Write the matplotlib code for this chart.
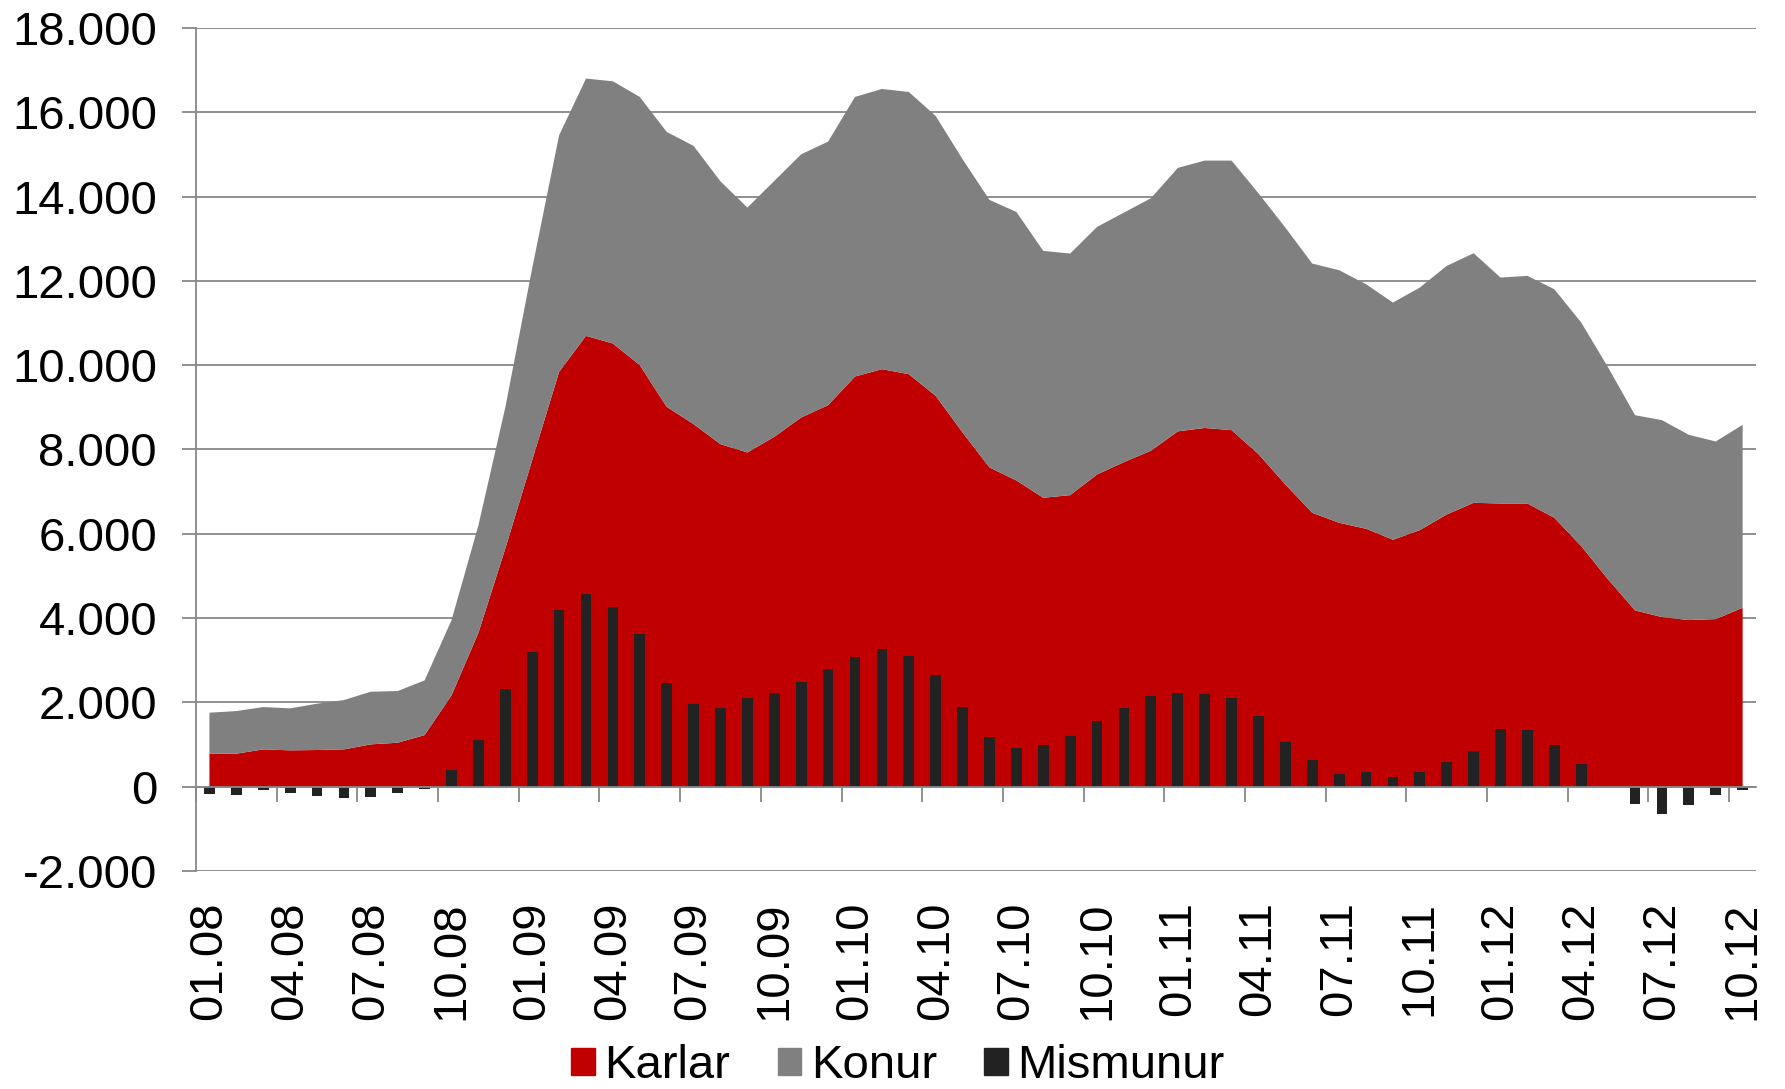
import numpy as np
import matplotlib
matplotlib.use("Agg")
import matplotlib.pyplot as plt
from matplotlib.patches import Patch
from matplotlib.ticker import FuncFormatter

plt.rcParams['font.family'] = ['Liberation Sans', 'DejaVu Sans']

# monthly values 01.08 - 10.12
karlar = [783, 783, 885, 862, 870, 885, 1004, 1043, 1225, 2166,
          3650, 5650, 7750, 9842, 10696, 10514, 10000, 9012, 8601, 8126,
          7929, 8300, 8759, 9051, 9731, 9905, 9787, 9273, 8403, 7573,
          7265, 6854, 6917, 7407, 7700, 7970, 8430, 8510, 8460, 7890,
          7170, 6498, 6261, 6119, 5858, 6087, 6458, 6735, 6719, 6719,
          6379, 5708, 4917, 4182, 4024, 3953, 3976, 4245]
konur = [972, 1011, 1004, 996, 1098, 1170, 1249, 1226, 1297, 1784,
         2550, 3350, 4550, 5613, 6104, 6221, 6364, 6522, 6601, 6234,
         5810, 6072, 6245, 6253, 6633, 6648, 6695, 6640, 6483, 6348,
         6371, 5857, 5731, 5874, 5921, 5990, 6250, 6344, 6394, 6189,
         6095, 5913, 5992, 5802, 5628, 5755, 5898, 5921, 5360, 5400,
         5423, 5304, 5028, 4632, 4672, 4395, 4214, 4340]
mismunur = [-182, -205, -87, -142, -229, -277, -237, -150, -47, 387,
            1099, 2316, 3186, 4198, 4577, 4269, 3613, 2466, 1953, 1874,
            2095, 2221, 2490, 2783, 3083, 3265, 3099, 2648, 1881, 1186,
            909, 988, 1194, 1557, 1874, 2142, 2229, 2206, 2095, 1684,
            1051, 624, 292, 340, 237, 340, 585, 838, 1360, 1344,
            980, 538, 0, -419, -640, -427, -206, -71]
tick_labels = ["01.08", "04.08", "07.08", "10.08", "01.09", "04.09", "07.09",
               "10.09", "01.10", "04.10", "07.10", "10.10", "01.11", "04.11",
               "07.11", "10.11", "01.12", "04.12", "07.12", "10.12"]
series_names = ["Karlar", "Konur", "Mismunur"]

RED = "#C00000"
GRAY = "#808080"
DARK = "#222222"
LINE = "#888888"

x = np.arange(len(karlar))

fig = plt.figure(figsize=(17.85, 10.89), dpi=100)
ax = fig.add_axes([0.1098, 0.2002, 0.9838 - 0.1098, 0.9743 - 0.2002])

ax.stackplot(x, karlar, konur, colors=[RED, GRAY], zorder=2, linewidth=0)
ax.bar(x, mismunur, width=0.4, color=DARK, zorder=3)

ax.set_xlim(-0.5, len(karlar) - 0.5)
ax.set_ylim(-2000, 18000)
ax.set_yticks(np.arange(-2000, 18001, 2000))
ax.yaxis.set_major_formatter(FuncFormatter(lambda v, p: f"{int(v):,}".replace(",", ".")))
ax.grid(axis='y', color=LINE, linewidth=1.3, zorder=1)
ax.set_axisbelow(True)

for s in ['top', 'right']:
    ax.spines[s].set_visible(False)
ax.spines['left'].set_color(LINE)
ax.spines['left'].set_linewidth(1.3)

# zero line with month ticks
ax.spines['bottom'].set_position(('data', 0))
ax.spines['bottom'].set_color(LINE)
ax.spines['bottom'].set_linewidth(1.3)
ax.spines['bottom'].set_zorder(4)
ax.set_xticks(np.arange(-0.5, len(karlar) - 0.5, 3))
ax.tick_params(axis='x', length=11, width=1.3, color=LINE, labelbottom=False, direction='out')
ax.tick_params(axis='y', length=10, width=1.3, color=LINE, labelsize=34, pad=18)

# date labels at the bottom
sec = ax.secondary_xaxis('bottom')
sec.set_xticks(x[::3], tick_labels)
sec.tick_params(length=0, labelsize=34, pad=22, labelrotation=90)
sec.spines['bottom'].set_visible(False)

handles = [Patch(color=c) for c in [RED, GRAY, DARK]]
fig.legend(handles, series_names, loc='lower center', bbox_to_anchor=(0.503, 0.001),
           ncol=3, frameon=False, fontsize=34, handlelength=0.5, handleheight=0.5,
           handletextpad=0.2, columnspacing=1.0, borderpad=0, borderaxespad=0)

fig.savefig("out.png", dpi=100)
